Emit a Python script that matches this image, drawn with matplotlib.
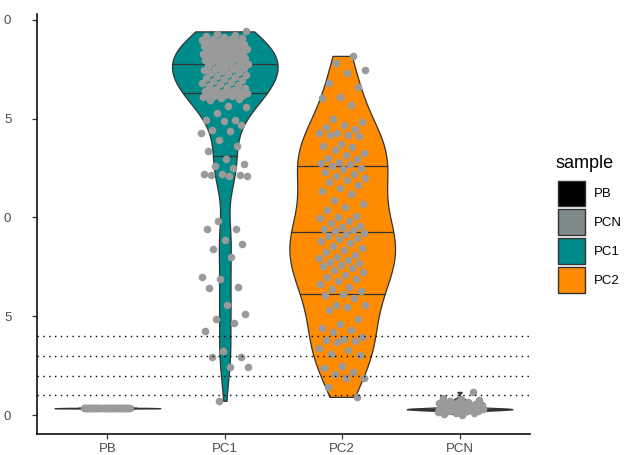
import numpy as np
import matplotlib
matplotlib.use("Agg")
import matplotlib.pyplot as plt
from matplotlib.patches import Patch

plt.rcParams['font.family'] = ['Liberation Sans', 'DejaVu Sans']

# ---------------- data ----------------
categories = ["PB", "PC1", "PC2", "PCN"]
y_ticks = [0, 5, 10, 15, 20]
y_tick_labels = ["0", "5", "0", "5", "0"]
ref_lines = [1, 2, 3, 4]

legend_title = "sample"
legend_order = ["PB", "PCN", "PC1", "PC2"]
fill_colors = {"PB": "#000000", "PCN": "#7F8A8A", "PC1": "#008B8B", "PC2": "#FF8C00"}

pb_values = [0.34, 0.35, 0.36, 0.35, 0.34, 0.36, 0.35, 0.37, 0.35, 0.34,
             0.36, 0.35, 0.35, 0.34, 0.36, 0.35, 0.37, 0.35, 0.36, 0.34,
             0.35, 0.36, 0.35, 0.34, 0.35, 0.36, 0.35, 0.35, 0.34, 0.36,
             0.35, 0.37, 0.35, 0.36, 0.34, 0.35, 0.36, 0.35, 0.34, 0.35]

pc1_values = [0.72, 2.43, 2.45, 2.94, 2.96, 3.24, 4.25, 4.66, 4.86, 5.1,
              5.57, 6.45, 6.5, 6.9, 7.0, 8.0, 8.4, 8.65, 8.85,
              9.4, 9.42, 9.8, 12.1, 12.12, 12.15, 12.17, 12.2, 12.22, 12.5,
              12.62, 12.7, 12.96, 13.37, 13.6, 13.9, 14.3, 14.4, 14.45, 14.7, 14.9, 14.92,
              14.95, 15.3, 15.6, 15.65, 15.95, 16.0, 16.06, 16.1, 16.13, 16.17,
              16.18, 16.21, 16.22, 16.26, 16.27, 16.3, 16.31, 16.33, 16.34, 16.36,
              16.41, 16.44, 16.52, 16.55, 16.63, 16.66, 16.71, 16.78, 16.8, 16.88,
              16.9, 16.97, 17.02, 17.04, 17.12, 17.16, 17.2, 17.27, 17.3, 17.38,
              17.41, 17.47, 17.5, 17.53, 17.58, 17.61, 17.66, 17.69, 17.72, 17.76,
              17.81, 17.86, 17.88, 17.92, 17.95, 18.02, 18.04, 18.08, 18.12, 18.15,
              18.18, 18.21, 18.26, 18.3, 18.33, 18.37, 18.41, 18.44, 18.46, 18.5,
              18.52, 18.55, 18.58, 18.62, 18.66, 18.7, 18.73, 18.77, 18.8, 18.83,
              18.86, 18.9, 18.93, 18.96, 19.02, 19.05, 19.08, 19.12, 19.2, 19.24,
              19.3, 19.42]

pc2_values = [18.18, 17.8, 17.47, 17.3, 16.8, 16.6, 16.1, 16.05, 15.7, 15.0,
              14.85, 14.7, 14.6, 14.5, 14.3, 14.3, 14.2, 14.15, 14.1, 13.7,
              13.6, 13.55, 13.4, 13.25, 13.15, 13.0, 12.95, 12.8, 12.78,
              12.7, 12.6, 12.5, 12.45, 12.3, 12.2, 12.1, 12.0, 11.9, 11.8,
              11.65, 11.5, 11.35, 11.2, 10.9, 10.7, 10.55, 10.4, 10.1, 10.0,
              9.95, 9.8, 9.7, 9.55, 9.5, 9.4, 9.35, 9.3, 9.22,
              9.15, 9.05, 8.95, 8.9, 8.8, 8.7, 8.55, 8.45, 8.35, 8.25,
              8.1, 8.0, 7.95, 7.85, 7.75, 7.7, 7.6, 7.55, 7.45, 7.35,
              7.25, 7.1, 7.0, 6.9, 6.8, 6.65, 6.5, 6.4, 6.3,
              6.15, 6.08, 5.9, 5.57, 5.55, 5.47, 5.3, 4.86, 4.6, 4.4,
              4.3, 4.2, 3.95, 3.85, 3.8, 3.75, 3.7, 3.4, 3.3, 3.1,
              3.05, 2.5, 2.4, 2.2, 2.1, 1.87, 1.85, 1.4, 0.92]

pcn_values = [0.28, 0.3, 0.29, 0.31, 0.3, 0.32, 0.29, 0.3, 0.31, 0.28,
              0.3, 0.29, 0.31, 0.3, 0.32, 0.3, 0.29, 0.31, 0.3, 0.28,
              0.3, 0.31, 0.29, 0.3, 0.3,
              0.02, 0.06, 0.1, 0.12, 0.15, 0.18, 0.2, 0.22, 0.4, 0.42,
              0.45, 0.48, 0.5, 0.52, 0.55, 0.58, 0.6, 0.63, 0.66, 0.7,
              0.75, 0.8, 0.85, 1.17]

group_values = {"PB": pb_values, "PC1": pc1_values, "PC2": pc2_values, "PCN": pcn_values}

# ---------------- helpers ----------------
def bw_nrd0(x):
    x = np.asarray(x, float)
    sd = np.std(x, ddof=1)
    iqr = np.subtract(*np.percentile(x, [75, 25]))
    lo = min(sd, iqr / 1.34)
    if lo <= 0:
        lo = sd if sd > 0 else (abs(x[0]) if x[0] != 0 else 1)
    return 0.9 * lo * len(x) ** (-0.2)

def kde(x, grid, bw):
    x = np.asarray(x, float)
    z = (grid[:, None] - x[None, :]) / bw
    return np.exp(-0.5 * z ** 2).sum(axis=1) / (len(x) * bw * np.sqrt(2 * np.pi))

# ---------------- figure ----------------
W, H = 627, 455
fig = plt.figure(figsize=(W / 100, H / 100), dpi=100)
ax = fig.add_axes([37 / W, 21 / H, (530 - 37) / W, (434 - 14) / H])

half = 0.45
for i, cat in enumerate(categories):
    pos = i + 1
    vals = np.asarray(group_values[cat], float)
    grid = np.linspace(vals.min(), vals.max(), 512)
    dens = kde(vals, grid, bw_nrd0(vals))
    w = dens / dens.max() * half
    ax.fill_betweenx(grid, pos - w, pos + w, facecolor=fill_colors[cat],
                     edgecolor="#333333", linewidth=0.9, zorder=2)
    ecdf = np.cumsum(dens) / dens.sum()
    for q in (0.25, 0.5, 0.75):
        yq = np.interp(q, ecdf, grid)
        wq = np.interp(yq, grid, w)
        ax.plot([pos - wq, pos + wq], [yq, yq], color="#333333", lw=0.9, zorder=3)
    n = len(vals)
    offs = (((np.arange(n) * 0.6180339887 + 0.37 * i) % 1.0) - 0.5) * 0.4
    ax.scatter(pos + offs, vals, s=30, color="#9A9A9A", linewidths=0, zorder=4)

for r in ref_lines:
    ax.axhline(r, color="black", lw=1.0, linestyle=(0, (1, 3.2)), zorder=5)

ax.set_xlim(0.4, 4.6)
ax.set_ylim(-0.96, 20.3)
ax.set_xticks(range(1, len(categories) + 1))
ax.set_xticklabels(categories)
ax.set_yticks(y_ticks)
ax.set_yticklabels(y_tick_labels)

for s in ("top", "right"):
    ax.spines[s].set_visible(False)
for s in ("left", "bottom"):
    ax.spines[s].set_linewidth(1.2)
    ax.spines[s].set_color("#111111")
ax.tick_params(axis="both", length=3.5, width=0.9, color="#333333",
               labelcolor="#4D4D4D", labelsize=9.5)
ax.tick_params(axis="x", pad=3)
ax.tick_params(axis="y", pad=15)

fig.text(555 / W, 1 - 163 / H, legend_title, fontsize=13, ha="left", va="center")
handles = [Patch(facecolor=fill_colors[c], edgecolor="#333333", linewidth=1.0, label=c)
           for c in legend_order]
leg = fig.legend(handles=handles, loc="upper left",
                 bbox_to_anchor=(555 / W, 1 - 178 / H), frameon=False,
                 fontsize=9.5, handlelength=2.05, handleheight=2.6,
                 labelspacing=0.25, handletextpad=0.7, borderpad=0.2,
                 borderaxespad=0)

fig.savefig("out.png", dpi=100)
